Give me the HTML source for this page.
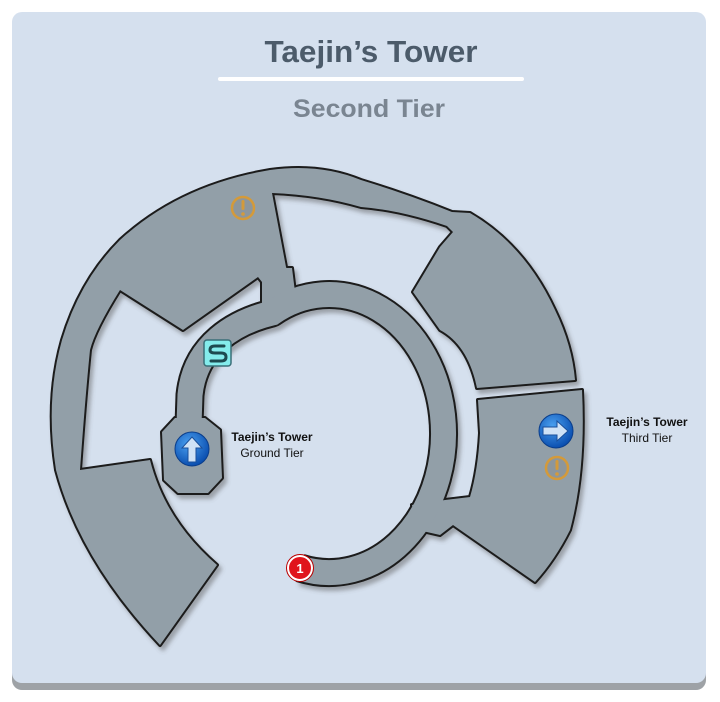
<!DOCTYPE html>
<html><head><meta charset="utf-8"><style>
html,body{margin:0;padding:0;background:#fff;}
body{width:720px;height:702px;position:relative;overflow:hidden;}
.card{position:absolute;left:12px;top:12px;width:694px;height:671px;background:#d5e0ee;border-radius:10px;box-shadow:0 7px 0 #9ea2a6;}
svg{position:absolute;left:0;top:0;}
</style></head><body>
<div class="card"></div>
<svg width="720" height="702" viewBox="0 0 720 702" font-family="Liberation Sans, sans-serif">
<defs>
<filter id="sh" x="-10%" y="-10%" width="120%" height="120%"><feDropShadow dx="3" dy="4" stdDeviation="2" flood-color="#555" flood-opacity="0.45"/></filter>
<radialGradient id="bl" cx="40%" cy="35%" r="65%"><stop offset="0" stop-color="#4aa0f0"/><stop offset="1" stop-color="#0b4fb0"/></radialGradient>
<path id="pa" d="M160,645 Q80,560 56,470 Q45,400 62,340 Q80,280 120,240 Q180,185 270,170 Q320,163 361,180 Q410,195 452,212 L470,213 Q525,245 555,310 Q572,345 575,380 L477,388 Q468,345 440,330 L413,292 L440,247 L453,232 L447,226 Q400,210 361,207 Q320,195 272,193 L286,267 L292,282 L262,282 L258,277 L183,330 L120,290 Q95,330 90,350 Q85,400 80,470 L150,460 Q165,520 217,565 Z"/>
<path id="pb" d="M478,400 L582,390 Q586,470 570,530 Q555,560 535,582 L453,525 L440,535 L418,530 L412,505 L445,500 L470,497 Q478,470 480,433 Z"/>
<polygon id="pc" points="175,418 205,418 220,430 222,478 208,493 178,493 164,480 162,432"/>
<path id="ring" d="M300,568 A114.5 139 0 1 0 272,313 C235,322 195,345 190,395 L189,425" fill="none"/>
<polygon id="pd" points="262,268 292,268 296,300 262,305"/>
</defs>
<text x="371" y="62" text-anchor="middle" font-size="31" font-weight="bold" fill="#4c5b6a" textLength="213" lengthAdjust="spacingAndGlyphs">Taejin’s Tower</text>
<rect x="218" y="77" width="306" height="4" rx="2" fill="#fff"/>
<text x="369" y="117" text-anchor="middle" font-size="25" font-weight="bold" fill="#7a8591" textLength="152" lengthAdjust="spacingAndGlyphs">Second Tier</text>

<g filter="url(#sh)">
<g fill="#1a1a1a" stroke="#1a1a1a" stroke-width="4" stroke-linejoin="round">
<use href="#pa"/><use href="#pb"/><use href="#pc"/><use href="#pd"/>
<use href="#ring" fill="none" stroke-width="29"/>
</g>
<g fill="#929fa8" stroke="none">
<use href="#pa"/><use href="#pb"/><use href="#pc"/><use href="#pd"/>
<use href="#ring" fill="none" stroke="#929fa8" stroke-width="25"/>
</g>
</g>

<g>
<circle cx="243" cy="208" r="11" fill="#8d969c" stroke="#d49a3a" stroke-width="2.5"/>
<rect x="241.5" y="200" width="3" height="10" rx="1.5" fill="#d49a3a"/><circle cx="243" cy="214" r="1.8" fill="#d49a3a"/>
<circle cx="557" cy="468" r="11" fill="#8d969c" stroke="#d49a3a" stroke-width="2.5"/>
<rect x="555.5" y="460" width="3" height="10" rx="1.5" fill="#d49a3a"/><circle cx="557" cy="474" r="1.8" fill="#d49a3a"/>
</g>
<circle cx="192" cy="449" r="17" fill="url(#bl)" stroke="#0a3d8a" stroke-width="1"/>
<path d="M192,437 L202,448 L196,448 L196,462 L188,462 L188,448 L182,448 Z" fill="#cfe2f6" stroke="#1a4f9a" stroke-width="1"/>
<circle cx="556" cy="431" r="17" fill="url(#bl)" stroke="#0a3d8a" stroke-width="1"/>
<path d="M568,431 L557,421 L557,427 L543,427 L543,435 L557,435 L557,441 Z" fill="#cfe2f6" stroke="#1a4f9a" stroke-width="1"/>
<rect x="204" y="340" width="27" height="26" rx="3" fill="#84ecec" stroke="#3a6f78" stroke-width="1.5"/>
<path d="M224,346 L215,346 Q210,346 210,350 Q210,353 215,353 L221,353 Q226,353 226,357 Q226,361 221,361 L211,361" fill="none" stroke="#1d4a50" stroke-width="3" stroke-linecap="round"/>
<circle cx="300" cy="568" r="12" fill="#e0141c" stroke="#fff" stroke-width="2"/>
<circle cx="300" cy="568" r="13.5" fill="none" stroke="#b00" stroke-width="1"/>
<text x="300" y="573" text-anchor="middle" font-size="13" font-weight="bold" fill="#fff">1</text>
<text x="272" y="441" text-anchor="middle" font-size="12" font-weight="bold" fill="#111">Taejin’s Tower</text>
<text x="272" y="457" text-anchor="middle" font-size="12" fill="#111">Ground Tier</text>
<text x="647" y="426" text-anchor="middle" font-size="12" font-weight="bold" fill="#111">Taejin’s Tower</text>
<text x="647" y="442" text-anchor="middle" font-size="12" fill="#111">Third Tier</text>
</svg>
</body></html>
